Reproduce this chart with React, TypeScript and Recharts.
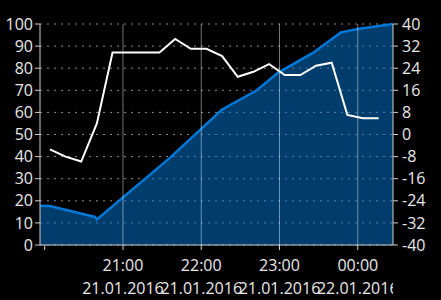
import { ComposedChart, Area, Line, XAxis, YAxis, CartesianGrid, ReferenceLine } from 'recharts';

// minutes after 20:00 on 21.01.2016
const blueTimes = [-3.6, 4, 38.6, 40, 95.5, 136, 162.6, 179, 205.6, 227, 240, 267];
const blueValues = [17.8, 17.6, 12.7, 11.6, 39.2, 61.3, 70, 78, 86.9, 96.2, 97.7, 100];

const whiteTimes = [4, 16, 28, 40, 52, 88, 100, 112, 124, 136, 148, 160, 172, 184, 196, 208, 220, 232, 244, 256];
const whiteValues = [-5.4, -8, -9.8, 4, 29.7, 29.7, 34.6, 31, 31, 28.4, 20.9, 22.7, 25.5, 21.5, 21.5, 24.9, 26, 7.1, 5.9, 5.9];

const hourTicks = [0, 60, 120, 180, 240];
const hourLabels = ['', '21:00', '22:00', '23:00', '00:00'];
const dateLabels = ['', '21.01.2016', '21.01.2016', '21.01.2016', '22.01.2016'];

const leftTicks = [0, 10, 20, 30, 40, 50, 60, 70, 80, 90, 100];
const rightTicks = [-40, -32, -24, -16, -8, 0, 8, 16, 24, 32, 40];

const times = Array.from(new Set([...blueTimes, ...whiteTimes])).sort((a, b) => a - b);
const chartData = times.map((t) => {
  const bi = blueTimes.indexOf(t);
  const wi = whiteTimes.indexOf(t);
  return { t, level: bi >= 0 ? blueValues[bi] : null, temp: wi >= 0 ? whiteValues[wi] : null };
});

const FONT = '"Open Sans", sans-serif';
const TEXT = '#e8e8e8';

const TimeTick = (props: any) => {
  const { x, y, payload } = props;
  const i = hourTicks.indexOf(payload.value);
  if (i < 0 || !hourLabels[i]) return null;
  const clipId = `xclip-${i}`;
  return (
    <g>
      <defs>
        <clipPath id={clipId}>
          <rect x={0} y={0} width={393} height={300} />
        </clipPath>
      </defs>
      <g clipPath={`url(#${clipId})`}>
        <text x={x} y={y + 19} textAnchor="middle" fill={TEXT} fontSize={16} fontFamily={FONT}>{hourLabels[i]}</text>
        <text x={x} y={y + 42} textAnchor="middle" fill={TEXT} fontSize={16} fontFamily={FONT}>{dateLabels[i]}</text>
      </g>
    </g>
  );
};

export default function App() {
  return (
    <div style={{ position: 'absolute', left: 0, top: 0, width: 441, height: 300, background: '#000' }}>
      <ComposedChart width={441} height={300} data={chartData} margin={{ top: 24, right: 0, left: 0, bottom: 0 }}>
        <CartesianGrid yAxisId="left" vertical={false} stroke="#8a8a8a" strokeDasharray="2 5" />
        <XAxis
          dataKey="t"
          type="number"
          domain={[blueTimes[0], blueTimes[blueTimes.length - 1]]}
          ticks={hourTicks}
          height={55}
          tick={<TimeTick />}
          tickSize={5}
          stroke="#cfcfcf"
          allowDataOverflow
        />
        <YAxis
          yAxisId="left"
          domain={[0, 100]}
          ticks={leftTicks}
          width={40}
          tickSize={5}
          stroke="#cfcfcf"
          tick={{ fill: TEXT, fontSize: 16, fontFamily: FONT }}
          interval={0}
        />
        <YAxis
          yAxisId="right"
          orientation="right"
          domain={[-40, 40]}
          ticks={rightTicks}
          width={48}
          tickSize={5}
          tickMargin={4}
          stroke="#cfcfcf"
          tick={{ fill: TEXT, fontSize: 16, fontFamily: FONT, textAnchor: 'start' }}
          interval={0}
        />
        <Area
          yAxisId="left"
          type="linear"
          dataKey="level"
          stroke="#0078d7"
          strokeWidth={2.5}
          fill="#0078d7"
          fillOpacity={0.5}
          connectNulls
          isAnimationActive={false}
        />
        {hourTicks.slice(1).map((h) => (
          <ReferenceLine key={h} yAxisId="left" x={h} stroke="rgba(255,255,255,0.45)" strokeWidth={1} />
        ))}
        <Line
          yAxisId="right"
          type="linear"
          dataKey="temp"
          stroke="#ffffff"
          strokeWidth={2}
          dot={false}
          connectNulls
          isAnimationActive={false}
        />
      </ComposedChart>
    </div>
  );
}
